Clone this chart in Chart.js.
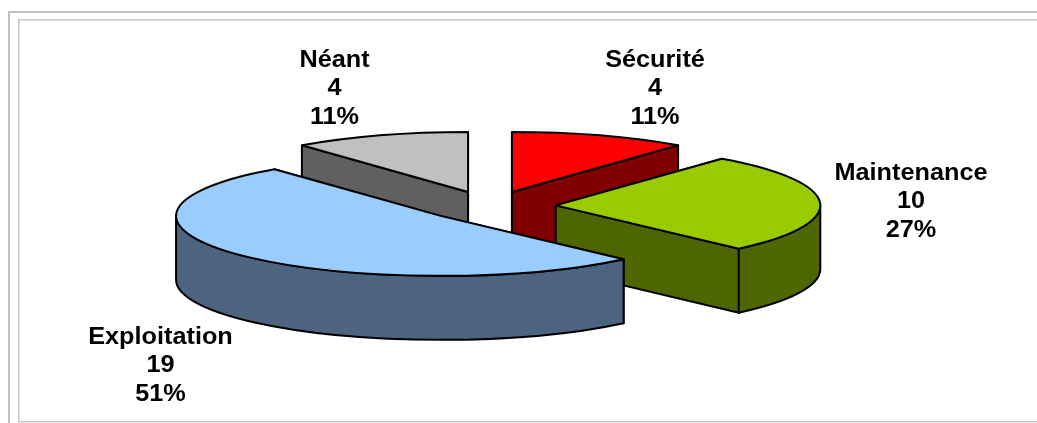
<!DOCTYPE html>
<html>
<head>
<meta charset="utf-8">
<title>Répartition</title>
<style>
  html, body { margin: 0; padding: 0; background: #fff; overflow: hidden; }
  #wrap { position: absolute; left: 0; top: 0; width: 1037px; height: 423px; }
</style>
<script src="https://cdn.jsdelivr.net/npm/chart.js@4/dist/chart.umd.min.js"></script>
</head>
<body>
<div id="wrap"><canvas id="pie" width="1037" height="423"></canvas></div>
<script>
const categories = ['Sécurité', 'Maintenance', 'Exploitation', 'Néant'];
const counts = [4, 10, 19, 4];
const percentLabels = ['11%', '27%', '51%', '11%'];
const topColors = ['#FF0000', '#99CC00', '#99CCFF', '#C0C0C0'];
const wallColors = ['#800000', '#4D6600', '#4D6480', '#606060'];

// Projection of the flat pie onto the tilted disc, in canvas pixels
const DISC = { cx: 490, cy: 206, rx: 264.5, ry: 60, depth: 64, explode: 0.249 };
// Back slices are painted first so nearer ones overlap them
const PAINT_ORDER = [0, 3, 1, 2];
// Centre of each label's first line, x then baseline
const LABEL_ANCHORS = [[655, 66.5], [911, 179.5], [160.5, 343.5], [334.5, 66.5]];
const LINE_HEIGHT = 28.5;
const FONT_PX = 23.5;
const TEXT_STRETCH = 1.075;
const EDGE_WIDTH = 2;

function sliceGeometry(arc) {
  const mid = (arc.startAngle + arc.endAngle) / 2;
  const e = DISC.explode;
  const ax = DISC.cx + Math.cos(mid) * e * DISC.rx;
  const ay = DISC.cy + Math.sin(mid) * e * DISC.ry;
  const rim = a => [ax + Math.cos(a) * DISC.rx, ay + Math.sin(a) * DISC.ry];
  return { ax, ay, rim };
}

function drawWalls(ctx, arc, color) {
  const { ax, ay, rim } = sliceGeometry(arc);
  const d = DISC.depth;
  const sA = arc.startAngle, eA = arc.endAngle;
  ctx.fillStyle = color;
  ctx.strokeStyle = '#000';
  ctx.lineWidth = EDGE_WIDTH;
  ctx.lineJoin = 'round';
  // The two cut faces running from the apex out to the rim
  [sA, eA].forEach(a => {
    const [px, py] = rim(a);
    ctx.beginPath();
    ctx.moveTo(ax, ay);
    ctx.lineTo(px, py);
    ctx.lineTo(px, py + d);
    ctx.lineTo(ax, ay + d);
    ctx.closePath();
    ctx.fill();
    ctx.stroke();
  });
  // The curved outer wall, only where the rim faces the viewer
  const from = Math.max(sA, 0), to = Math.min(eA, Math.PI);
  if (to > from) {
    ctx.beginPath();
    ctx.ellipse(ax, ay, DISC.rx, DISC.ry, 0, from, to);
    ctx.ellipse(ax, ay + d, DISC.rx, DISC.ry, 0, to, from, true);
    ctx.closePath();
    ctx.fill();
    ctx.stroke();
  }
}

// Paints the library's arc elements through a tilt transform, with depth below them
const tiltedPie = {
  id: 'tiltedPie',
  beforeDatasetsDraw(chart) {
    const ctx = chart.ctx;
    const arcs = chart.getDatasetMeta(0).data;
    PAINT_ORDER.forEach(i => {
      const arc = arcs[i];
      drawWalls(ctx, arc, wallColors[i]);
      const { ax, ay, rim } = sliceGeometry(arc);
      ctx.save();
      ctx.translate(ax, ay);
      ctx.scale(DISC.rx / arc.outerRadius, DISC.ry / arc.outerRadius);
      ctx.translate(-arc.x, -arc.y);
      ctx.save();
      arc.draw(ctx);
      ctx.restore();
      ctx.restore();
      // Rim and cut lines at an even width, unaffected by the tilt
      const [sx, sy] = rim(arc.startAngle);
      const [ex, ey] = rim(arc.endAngle);
      ctx.beginPath();
      ctx.moveTo(sx, sy);
      ctx.lineTo(ax, ay);
      ctx.lineTo(ex, ey);
      ctx.moveTo(sx, sy);
      ctx.ellipse(ax, ay, DISC.rx, DISC.ry, 0, arc.startAngle, arc.endAngle);
      ctx.strokeStyle = '#000';
      ctx.lineWidth = EDGE_WIDTH;
      ctx.stroke();
    });
    return false;
  }
};

const frameAndLabels = {
  id: 'frameAndLabels',
  beforeDraw(chart) {
    const ctx = chart.ctx;
    ctx.save();
    ctx.fillStyle = '#C0C0C0';
    ctx.fillRect(8, 11, 1029, 2);
    ctx.fillRect(8, 11, 2, 412);
    ctx.fillStyle = '#C8C8C8';
    ctx.fillRect(18, 19, 1019, 1.5);
    ctx.fillRect(18, 19, 1.5, 403);
    ctx.fillRect(18, 421, 1019, 1.5);
    ctx.restore();
  },
  afterDraw(chart) {
    const ctx = chart.ctx;
    ctx.save();
    ctx.font = 'bold ' + FONT_PX + 'px "Liberation Sans", Arial, sans-serif';
    ctx.fillStyle = '#000';
    ctx.textAlign = 'center';
    ctx.textBaseline = 'alphabetic';
    categories.forEach((name, i) => {
      const [x, y] = LABEL_ANCHORS[i];
      [name, String(counts[i]), percentLabels[i]].forEach((line, k) => {
        ctx.save();
        ctx.translate(x, y + k * LINE_HEIGHT);
        ctx.scale(TEXT_STRETCH, 1);
        ctx.fillText(line, 0, 0);
        ctx.restore();
      });
    });
    ctx.restore();
  }
};

new Chart(document.getElementById('pie'), {
  type: 'pie',
  data: {
    labels: categories,
    datasets: [{ data: counts, backgroundColor: topColors, borderWidth: 0 }]
  },
  options: {
    responsive: false,
    animation: false,
    rotation: 0,
    layout: { padding: 0 },
    plugins: { legend: { display: false }, tooltip: { enabled: false } }
  },
  plugins: [tiltedPie, frameAndLabels]
});
</script>
</body>
</html>
